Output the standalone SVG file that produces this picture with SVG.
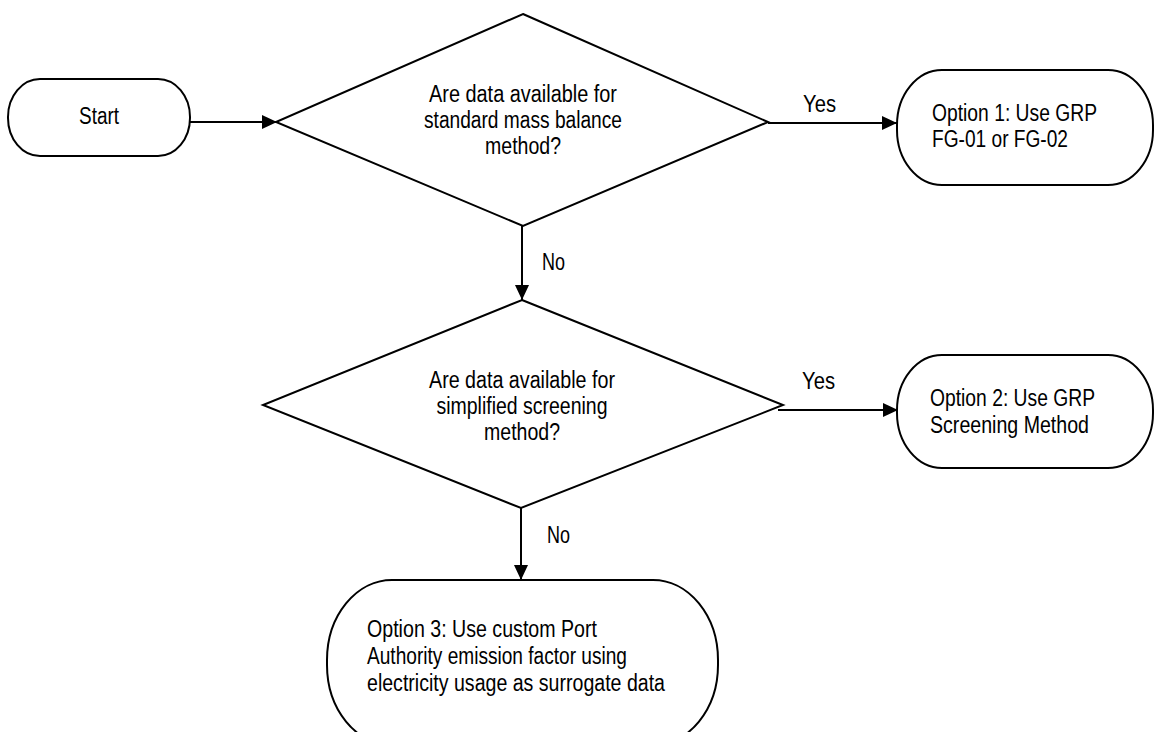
<svg xmlns="http://www.w3.org/2000/svg" width="1155" height="732" viewBox="0 0 1155 732">
<style>
.shape{fill:#fff;stroke:#000;stroke-width:2}
.conn{fill:none;stroke:#000;stroke-width:2}
text{font-family:"Liberation Sans",Arial,sans-serif;font-size:23px;fill:#000}
.c{text-anchor:middle}
</style>
<defs>
<marker id="arr" markerUnits="userSpaceOnUse" markerWidth="16" markerHeight="14" refX="15" refY="7" orient="auto">
<path d="M0,0 L15,7 L0,14 z" fill="#000"/>
</marker>
</defs>
<rect width="1155" height="732" fill="#fff"/>
<g id="connectors">
<path class="conn" d="M190,122 L277,122" marker-end="url(#arr)"/>
<path class="conn" d="M768,123 L897,123" marker-end="url(#arr)"/>
<path class="conn" d="M522,226 L522,300" marker-end="url(#arr)"/>
<path class="conn" d="M778,410 L898,410" marker-end="url(#arr)"/>
<path class="conn" d="M521,508 L521,580" marker-end="url(#arr)"/>
<text x="803" y="112" textLength="33" lengthAdjust="spacingAndGlyphs">Yes</text>
<text x="542" y="270" textLength="23" lengthAdjust="spacingAndGlyphs">No</text>
<text x="802" y="389" textLength="33" lengthAdjust="spacingAndGlyphs">Yes</text>
<text x="547" y="543" textLength="23" lengthAdjust="spacingAndGlyphs">No</text>
</g>
<g id="start">
<rect class="shape" x="8" y="79" width="182" height="77" rx="32" ry="38"/>
<text class="c" x="99" y="124" textLength="40" lengthAdjust="spacingAndGlyphs">Start</text>
</g>
<g id="decision1">
<polygon class="shape" points="523,14 768,122 523,226 276,122"/>
<text class="c" x="523" y="102" textLength="188" lengthAdjust="spacingAndGlyphs">Are data available for</text>
<text class="c" x="523" y="128" textLength="198" lengthAdjust="spacingAndGlyphs">standard mass balance</text>
<text class="c" x="523" y="154" textLength="76" lengthAdjust="spacingAndGlyphs">method?</text>
</g>
<g id="option1">
<rect class="shape" x="897" y="70" width="256" height="115" rx="45" ry="55"/>
<text x="932" y="121" textLength="165" lengthAdjust="spacingAndGlyphs">Option 1: Use GRP</text>
<text x="932" y="147" textLength="136" lengthAdjust="spacingAndGlyphs">FG-01 or FG-02</text>
</g>
<g id="decision2">
<polygon class="shape" points="522,300 783,405 521,508 263,405"/>
<text class="c" x="522" y="388" textLength="186" lengthAdjust="spacingAndGlyphs">Are data available for</text>
<text class="c" x="522" y="414" textLength="171" lengthAdjust="spacingAndGlyphs">simplified screening</text>
<text class="c" x="522" y="440" textLength="76" lengthAdjust="spacingAndGlyphs">method?</text>
</g>
<g id="option2">
<rect class="shape" x="897" y="355" width="256" height="113" rx="45" ry="55"/>
<text x="930" y="406" textLength="165" lengthAdjust="spacingAndGlyphs">Option 2: Use GRP</text>
<text x="930" y="433" textLength="159" lengthAdjust="spacingAndGlyphs">Screening Method</text>
</g>
<g id="option3">
<rect class="shape" x="327" y="580" width="391" height="165" rx="65" ry="80"/>
<text x="367" y="637" textLength="230" lengthAdjust="spacingAndGlyphs">Option 3: Use custom Port</text>
<text x="367" y="664" textLength="260" lengthAdjust="spacingAndGlyphs">Authority emission factor using</text>
<text x="367" y="691" textLength="298" lengthAdjust="spacingAndGlyphs">electricity usage as surrogate data</text>
</g>
</svg>
